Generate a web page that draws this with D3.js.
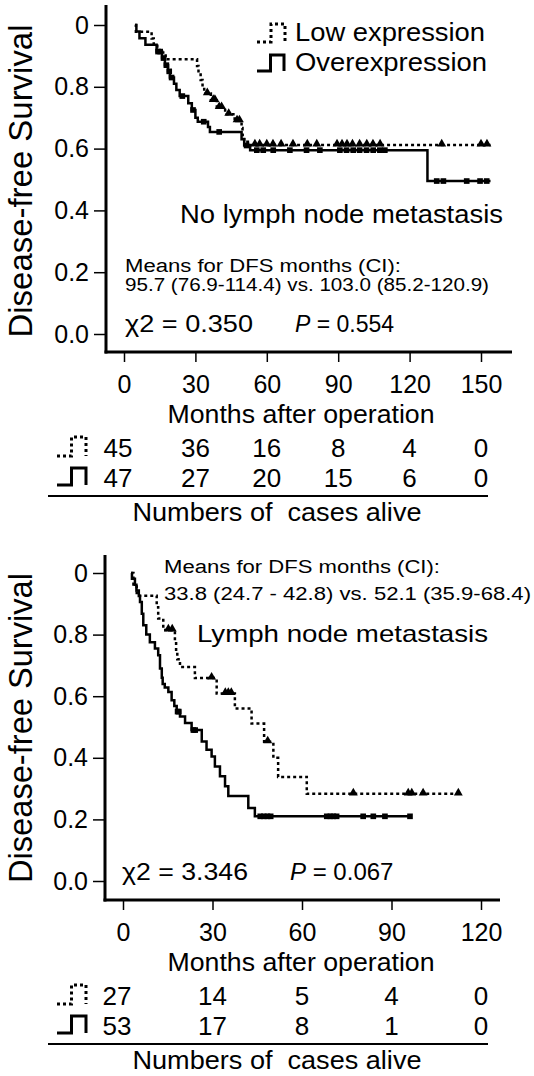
<!DOCTYPE html>
<html>
<meta charset="utf-8">
<title>Disease-free survival</title>
<style>
  body { margin: 0; background: #fff; }
  text { font-family: "Liberation Sans", Arial, Helvetica, sans-serif; fill: #000; }
  .axisline { stroke: #000; stroke-width: 3; }
  .tick line { stroke: #000; stroke-width: 1.5; }
  .km { fill: none; stroke: #000; stroke-width: 2.5; }
  .km.low { stroke-dasharray: 3,3; }
  .icon { fill: none; stroke: #000; stroke-width: 3; }
  .icon.low { stroke-dasharray: 3,3; }
</style>
<body>
<div id="chart"></div>
<script src="https://d3js.org/d3.v7.min.js"></script>
<script>
// ---- data ----
var survTicks = [0, 0.2, 0.4, 0.6, 0.8, 1];
var monthTicksTop = [0, 30, 60, 90, 120, 150];
var monthTicksBottom = [0, 30, 60, 90, 120];

// no lymph node metastasis: [month, survival after step]
var topLowSteps = [[4.6,1.0],[5.0,0.978],[11.6,0.956],[12.5,0.933],[14.0,0.911],[17.5,0.889],[30.7,0.867],[31.3,0.844],[32.2,0.822],[33.0,0.80],[33.7,0.778],[36.5,0.756],[39.0,0.733],[42.5,0.711],[46.5,0.69],[49.4,0.667],[49.8,0.644],[50.5,0.622],[53.0,0.612],[154,0.612]];
var topLowCensor = [[35,0.778],[37.5,0.756],[38.2,0.756],[40,0.733],[41,0.733],[44,0.711],[47.5,0.69],[48.5,0.69],[55,0.612],[57,0.612],[60,0.612],[62.6,0.612],[66,0.612],[71,0.612],[77,0.612],[81,0.612],[89.5,0.612],[91.6,0.612],[93.7,0.612],[96,0.612],[99,0.612],[102,0.612],[104.6,0.612],[107.6,0.612],[133.5,0.612],[150,0.612],[152.5,0.612]];
var topOverSteps = [[4.6,1.0],[5.2,0.979],[6.5,0.957],[9,0.936],[13.7,0.914],[16,0.893],[17.2,0.87],[18.5,0.85],[19.3,0.83],[21,0.81],[22,0.79],[23.4,0.77],[27,0.747],[28.5,0.725],[30,0.70],[31,0.687],[35.3,0.67],[36.1,0.654],[49.4,0.63],[50.5,0.61],[53,0.595],[127.5,0.495],[154,0.495]];
var topOverCensor = [[14.3,0.914],[15.2,0.914],[16.6,0.893],[17.8,0.87],[19,0.85],[20,0.83],[24.5,0.77],[29,0.725],[33.5,0.687],[40,0.654],[51.5,0.61],[55.8,0.595],[58.5,0.595],[62.7,0.595],[69.7,0.595],[76.7,0.595],[82.3,0.595],[90.7,0.595],[93.5,0.595],[96.3,0.595],[99,0.595],[101.9,0.595],[104.7,0.595],[107.5,0.595],[109.6,0.595],[131.4,0.495],[134.2,0.495],[144,0.495],[149.6,0.495],[152.4,0.495]];

// lymph node metastasis
var botLowSteps = [[2.7,1.0],[3.5,0.963],[4.6,0.926],[11.3,0.889],[11.8,0.852],[13.5,0.815],[17.4,0.78],[17.8,0.745],[18.2,0.72],[19.1,0.695],[24.1,0.659],[31.4,0.609],[37.5,0.56],[43.1,0.511],[47.3,0.452],[50.4,0.40],[52,0.338],[61.6,0.283],[113.5,0.283]];
var botLowCensor = [[15.2,0.815],[16.5,0.815],[29.7,0.659],[34.3,0.609],[35.3,0.609],[36.3,0.609],[48.5,0.452],[77.2,0.283],[95.6,0.283],[96.8,0.283],[100.6,0.283],[112.4,0.283]];
var botOverSteps = [[2.7,1.0],[3.0,0.981],[4.0,0.962],[4.5,0.943],[5.3,0.925],[5.7,0.906],[6.3,0.868],[6.8,0.83],[7.8,0.80],[9,0.775],[10.7,0.755],[11.8,0.733],[12.4,0.69],[13,0.66],[13.3,0.64],[14,0.628],[15.2,0.614],[16.3,0.587],[17.2,0.568],[18,0.55],[19.1,0.534],[20.8,0.513],[23,0.49],[26.4,0.453],[28,0.426],[29.7,0.404],[30.8,0.372],[32.5,0.34],[34.2,0.308],[35.3,0.276],[42,0.237],[44.2,0.21],[96.8,0.21]];
var botOverCensor = [[18.3,0.55],[18.7,0.55],[23.6,0.49],[24.2,0.49],[46,0.21],[47.2,0.21],[48.4,0.21],[49.5,0.21],[68.3,0.21],[69.5,0.21],[70.5,0.21],[71.6,0.21],[80.5,0.21],[83.9,0.21],[87.8,0.21],[96.2,0.21]];

// numbers at risk
var topLowAtRisk = [45, 36, 16, 8, 4, 0];
var topOverAtRisk = [47, 27, 20, 15, 6, 0];
var botLowAtRisk = [27, 14, 5, 4, 0];
var botOverAtRisk = [53, 17, 8, 1, 0];

// ---- drawing ----
var svg = d3.select("#chart").append("svg")
    .attr("width", 534)
    .attr("height", 1076);

function txt(g, x, y, s, size, len, anchor) {
  var t = g.append("text")
      .attr("x", x).attr("y", y)
      .attr("font-size", size)
      .style("white-space", "pre")
      .attr("text-anchor", anchor || "start")
      .text(s);
  if (len) t.attr("textLength", len).attr("lengthAdjust", "spacingAndGlyphs");
  return t;
}

// little step icon used in legend and at-risk table
function icon(g, x, y, w, h, low) {
  g.append("path")
      .attr("class", low ? "icon low" : "icon")
      .attr("d", "M" + x + "," + (y + h) + "H" + (x + w * 0.5) + "V" + y + "H" + (x + w) + "V" + (y + h));
}

function panel(p) {
  var g = svg.append("g");
  var x = d3.scaleLinear().domain(p.xDomain).range(p.xRange);
  var y = d3.scaleLinear().domain([0, 1]).range(p.yRange);

  // axes
  var yAxis = d3.axisLeft(y).tickValues(survTicks).tickSize(12).tickPadding(5)
      .tickFormat(function(d) { return d === 1 ? "0" : d3.format(".1f")(d); });
  var ya = g.append("g").attr("transform", "translate(" + p.axisX + ",0)").call(yAxis);
  ya.select(".domain").remove();
  ya.selectAll("text").attr("font-size", 25).attr("font-family", null);

  var xAxis = d3.axisBottom(x).tickValues(p.monthTicks).tickSize(10).tickPadding(13);
  var xa = g.append("g").attr("transform", "translate(0," + p.axisY + ")").call(xAxis);
  xa.select(".domain").remove();
  xa.selectAll("text").attr("font-size", 25).attr("font-family", null);

  g.append("line").attr("class", "axisline")
      .attr("x1", p.axisX).attr("x2", p.axisX).attr("y1", p.yTop).attr("y2", p.axisY + 1.5);
  g.append("line").attr("class", "axisline")
      .attr("x1", p.axisX - 1.5).attr("x2", p.xRight).attr("y1", p.axisY).attr("y2", p.axisY);

  // curves
  var line = d3.line().x(function(d) { return x(d[0]); }).y(function(d) { return y(d[1]); })
      .curve(d3.curveStepAfter);
  g.append("path").datum(p.low).attr("class", "km low").attr("d", line);
  g.append("path").datum(p.over).attr("class", "km").attr("d", line);

  g.selectAll(".cl").data(p.lowCensor).enter().append("path")
      .attr("class", "cl")
      .attr("d", d3.symbol(d3.symbolTriangle).size(34))
      .attr("transform", function(d) { return "translate(" + x(d[0]) + "," + (y(d[1]) - 1) + ")"; });
  g.selectAll(".co").data(p.overCensor).enter().append("path")
      .attr("class", "co")
      .attr("d", d3.symbol(d3.symbolSquare).size(32))
      .attr("transform", function(d) { return "translate(" + x(d[0]) + "," + y(d[1]) + ")"; });

  // y title
  g.append("text")
      .attr("transform", "translate(32," + p.titleY + ") rotate(-90)")
      .attr("text-anchor", "middle")
      .attr("font-size", 33)
      .attr("textLength", p.titleLen).attr("lengthAdjust", "spacingAndGlyphs")
      .text("Disease-free Survival");

  // number-at-risk table
  var tY = p.axisY;
  txt(g, 301, tY + 71, "Months after operation", 25, 267, "middle");
  icon(g, 57, tY + 85, 29, 19, true);
  icon(g, 57, tY + 116, 29, 17, false);
  g.selectAll(".rl").data(p.lowRisk).enter().append("text")
      .attr("x", function(d, i) { return x(p.monthTicks[i]) - (i === 0 ? 6 : 0); })
      .attr("y", tY + 105)
      .attr("text-anchor", "middle").attr("font-size", 26)
      .text(function(d) { return d; });
  g.selectAll(".ro").data(p.overRisk).enter().append("text")
      .attr("x", function(d, i) { return x(p.monthTicks[i]) - (i === 0 ? 6 : 0); })
      .attr("y", tY + 135)
      .attr("text-anchor", "middle").attr("font-size", 26)
      .text(function(d) { return d; });
  g.append("line").attr("x1", 48).attr("x2", 488).attr("y1", tY + 144).attr("y2", tY + 144)
      .attr("stroke", "#000").attr("stroke-width", 2);
  txt(g, 277, tY + 169, "Numbers of  cases alive", 26, 289, "middle");
  return g;
}

var gA = panel({
  xDomain: [0, 150], xRange: [124, 481], yRange: [334, 25],
  axisX: 106, axisY: 352, yTop: 5, xRight: 512,
  monthTicks: monthTicksTop,
  low: topLowSteps, over: topOverSteps, lowCensor: topLowCensor, overCensor: topOverCensor,
  lowRisk: topLowAtRisk, overRisk: topOverAtRisk,
  titleY: 181, titleLen: 313
});
icon(gA, 257, 24, 28, 18, true);
icon(gA, 257, 55, 27, 16, false);
txt(gA, 295, 41, "Low expression", 25, 190);
txt(gA, 295, 71, "Overexpression", 25, 192);
txt(gA, 180, 223, "No lymph node metastasis", 25, 323);
txt(gA, 125, 272, "Means for DFS months (CI):", 18, 276);
txt(gA, 125, 291, "95.7 (76.9-114.4) vs. 103.0 (85.2-120.9)", 18, 364);
txt(gA, 125, 332, "\u03c72 = 0.350", 23, 128);
var pA = txt(gA, 295, 332, "", 23);
pA.append("tspan").attr("font-style", "italic").text("P");
pA.append("tspan").text(" = 0.554");

var gB = panel({
  xDomain: [0, 120], xRange: [123, 481], yRange: [881, 573],
  axisX: 105, axisY: 900, yTop: 555, xRight: 500,
  monthTicks: monthTicksBottom,
  low: botLowSteps, over: botOverSteps, lowCensor: botLowCensor, overCensor: botOverCensor,
  lowRisk: botLowAtRisk, overRisk: botOverAtRisk,
  titleY: 728, titleLen: 310
});
txt(gB, 164, 573, "Means for DFS months (CI):", 18, 276);
txt(gB, 164, 600, "33.8 (24.7 - 42.8) vs. 52.1 (35.9-68.4)", 18, 367);
txt(gB, 197, 642, "Lymph node metastasis", 24, 291);
txt(gB, 122, 880, "\u03c72 = 3.346", 24, 126);
var pB = txt(gB, 290, 880, "", 24);
pB.append("tspan").attr("font-style", "italic").text("P");
pB.append("tspan").text(" = 0.067");
</script>
</body>
</html>
